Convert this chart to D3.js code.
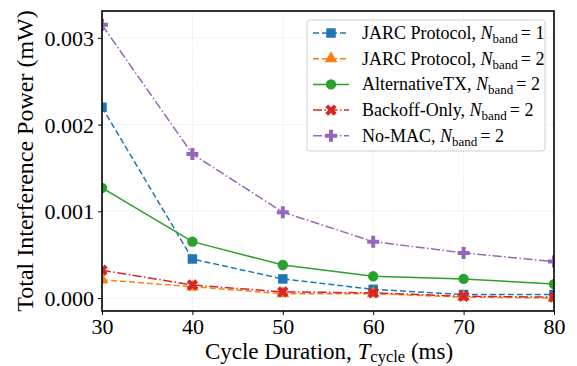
<!DOCTYPE html>
<html>
<head>
<meta charset="utf-8">
<script src="https://cdn.jsdelivr.net/npm/d3@7"></script>
<style>
  body { margin: 0; background: #fff; }
  text { font-family: "Liberation Serif", "DejaVu Serif", serif; fill: #000; }
</style>
</head>
<body>
<div id="chart"></div>
<script>
// data
const cycles = [30, 40, 50, 60, 70, 80];
const jarc1 = [0.00220, 0.00045, 0.00022, 0.00010, 0.00004, 0.00004];
const jarc2 = [0.00021, 0.00013, 0.00005, 0.00005, 0.00001, 0.00000];
const altTx = [0.00127, 0.00065, 0.00038, 0.00025, 0.00022, 0.00016];
const backoff = [0.00032, 0.00015, 0.00007, 0.00006, 0.00002, 0.00001];
const noMac = [0.00315, 0.00166, 0.00099, 0.00065, 0.00052, 0.00042];
const yTicks = [0, 0.001, 0.002, 0.003];
const xTicks = [30, 40, 50, 60, 70, 80];

const series = [
  { name: "JARC Protocol, ", n: "1", values: jarc1, color: "#1f77b4", dash: "6,3", marker: "square" },
  { name: "JARC Protocol, ", n: "2", values: jarc2, color: "#ff7f0e", dash: "6,3", marker: "triangle" },
  { name: "AlternativeTX, ", n: "2", values: altTx, color: "#2ca02c", dash: null, marker: "circle" },
  { name: "Backoff-Only, ", n: "2", values: backoff, color: "#d62728", dash: "9,2.5,1.5,2.5", marker: "x" },
  { name: "No-MAC, ", n: "2", values: noMac, color: "#9467bd", dash: "9,2.5,1.5,2.5", marker: "plus" }
];

const W = 577, H = 366;
const margin = { top: 11, right: 23, bottom: 55, left: 102 };
const width = W - margin.left - margin.right;
const height = H - margin.top - margin.bottom;

const svg = d3.select("#chart").append("svg")
  .attr("width", W)
  .attr("height", H);

const g = svg.append("g")
  .attr("transform", `translate(${margin.left},${margin.top})`);

const x = d3.scaleLinear().domain([30, 80]).range([0, width]);
const y = d3.scaleLinear().domain([-0.00015, 0.00331]).range([height, 0]);

// grid
g.append("g").selectAll("line").data(xTicks).enter().append("line")
  .attr("x1", d => x(d)).attr("x2", d => x(d))
  .attr("y1", 0).attr("y2", height)
  .attr("stroke", "#d9d9d9").attr("stroke-width", 0.8).attr("stroke-dasharray", "1,1.5");
g.append("g").selectAll("line").data(yTicks).enter().append("line")
  .attr("y1", d => y(d)).attr("y2", d => y(d))
  .attr("x1", 0).attr("x2", width)
  .attr("stroke", "#d9d9d9").attr("stroke-width", 0.8).attr("stroke-dasharray", "1,1.5");

// axes
const xAxis = d3.axisBottom(x).tickValues(xTicks).tickSize(4).tickPadding(3).tickFormat(d3.format("d"));
const yAxis = d3.axisLeft(y).tickValues(yTicks).tickSize(4).tickPadding(4).tickFormat(d3.format(".3f"));

const gx = g.append("g").attr("transform", `translate(0,${height})`).call(xAxis);
const gy = g.append("g").call(yAxis);
[gx, gy].forEach(a => {
  a.select(".domain").remove();
  a.selectAll(".tick line").attr("stroke", "#000").attr("stroke-width", 1);
  a.selectAll(".tick text").attr("font-size", 22).attr("font-family", "Liberation Serif");
});
gy.selectAll(".tick text").attr("dy", "0.34em");

// lines and markers, clipped to the plot
g.append("clipPath").attr("id", "clip")
  .append("rect").attr("width", width).attr("height", height);
const plot = g.append("g").attr("clip-path", "url(#clip)");

const line = d3.line().x((d, i) => x(cycles[i])).y(d => y(d));

function markerPath(type) {
  if (type === "square") return d3.symbol(d3.symbolSquare, 90)();
  if (type === "triangle") return d3.symbol(d3.symbolTriangle, 70)();
  if (type === "circle") return d3.symbol(d3.symbolCircle, 85)();
  return d3.symbol(d3.symbolCross, 80)();
}

series.forEach(s => {
  plot.append("path")
    .datum(s.values)
    .attr("d", line)
    .attr("fill", "none")
    .attr("stroke", s.color)
    .attr("stroke-width", 1.5)
    .attr("stroke-dasharray", s.dash);
  plot.selectAll(null).data(s.values).enter().append("path")
    .attr("d", markerPath(s.marker))
    .attr("transform", (d, i) => `translate(${x(cycles[i])},${y(d)})` + (s.marker === "x" ? " rotate(45)" : ""))
    .attr("fill", s.color);
});

// frame
g.append("rect").attr("width", width).attr("height", height)
  .attr("fill", "none").attr("stroke", "#000").attr("stroke-width", 1.6);

// legend
const lg = g.append("g").attr("transform", "translate(205,9)");
lg.append("rect").attr("width", 238).attr("height", 131).attr("rx", 3)
  .attr("fill", "#fff").attr("fill-opacity", 0.85)
  .attr("stroke", "#d0d0d0").attr("stroke-width", 1);
series.forEach((s, i) => {
  const row = lg.append("g").attr("transform", `translate(0,${13 + i * 25.7})`);
  row.append("line").attr("x1", 6).attr("x2", 42)
    .attr("stroke", s.color).attr("stroke-width", 1.5).attr("stroke-dasharray", s.dash);
  row.append("path").attr("d", markerPath(s.marker))
    .attr("transform", "translate(24,0)" + (s.marker === "x" ? " rotate(45)" : ""))
    .attr("fill", s.color);
  const t = row.append("text").attr("x", 55).attr("y", 6).attr("font-size", 18);
  t.append("tspan").text(s.name);
  t.append("tspan").attr("font-style", "italic").text("N");
  t.append("tspan").attr("font-size", 13).attr("dy", 4).text("band");
  t.append("tspan").attr("dy", -4).attr("dx", 3).text("= ");
  t.append("tspan").text(s.n);
});

// axis labels
const xl = svg.append("text")
  .attr("x", margin.left + width / 2 + 1).attr("y", 359)
  .attr("text-anchor", "middle").attr("font-size", 23);
xl.append("tspan").text("Cycle Duration, ");
xl.append("tspan").attr("font-style", "italic").text("T");
xl.append("tspan").attr("font-size", 16.5).attr("dy", 3).text("cycle");
xl.append("tspan").attr("dy", -3).text(" (ms)");

svg.append("text")
  .attr("transform", `translate(33,${margin.top + 150}) rotate(-90)`)
  .attr("text-anchor", "middle").attr("font-size", 24)
  .text("Total Interference Power (mW)");
</script>
</body>
</html>
